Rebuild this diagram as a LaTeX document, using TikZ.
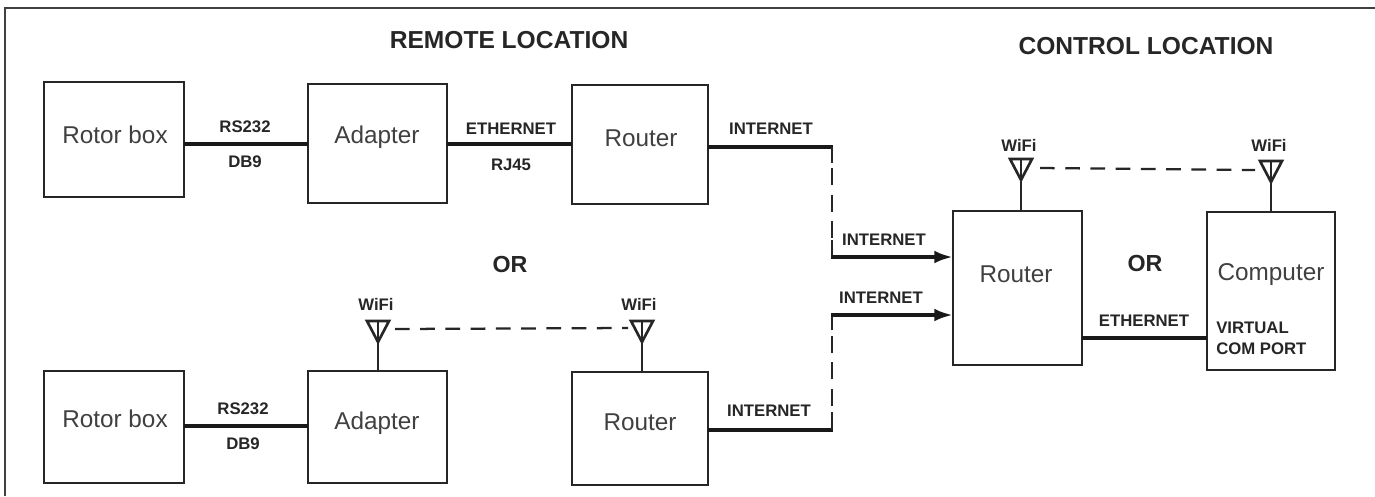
\documentclass[tikz,border=0pt]{standalone}
\usepackage{fontspec}
\setmainfont{Liberation Sans}
\usetikzlibrary{arrows.meta}
\newcommand{\px}{0.0264583cm}
\tikzset{
  x=\px,y=-\px,
  blockbox/.style={draw=black!85,line width=1.7pt,inner sep=0pt,outer sep=0pt},
  blocktext/.style={font=\fontsize{18.3}{20}\selectfont,text=black!75,inner sep=0pt},
  smalltext/.style={font=\fontsize{12.6}{14}\selectfont\bfseries,text=black!85,inner sep=0pt},
  headtext/.style={font=\fontsize{18.5}{20}\selectfont\bfseries,text=black!85,inner sep=0pt},
  orlabel/.style={font=\fontsize{17.5}{20}\selectfont\bfseries,text=black!85,inner sep=0pt},
  thick line/.style={draw=black!90,line width=3pt},
  thin line/.style={draw=black!85,line width=1.7pt},
  dash line/.style={draw=black!85,line width=1.7pt,dash pattern=on 11pt off 8pt},
  vdash line/.style={draw=black!85,line width=1.7pt,dash pattern=on 13pt off 7pt},
  arrow line/.style={draw=black!90,line width=3pt,-{Latex[length=14pt,width=9.5pt]}},
  antenna/.style={draw=black!85,line width=2pt,fill=white,line join=miter}
}
\newcommand{\blockat}[5]{% name, x1,y1,x2,y2
  \node[blockbox,minimum width={(#4-#2)*\px},minimum height={(#5-#3)*\px},anchor=north west] (#1) at (#2,#3) {};
}
\newcommand{\antennaat}[3]{% name, x, tip y
  \coordinate (#1) at (#2,#3);
  \draw[antenna] (#2-11,#3-21) -- (#2+11,#3-21) -- (#2,#3) -- cycle;
  \draw[thin line] (#2,#3-21) -- (#2,#3);
}
\begin{document}
\begin{tikzpicture}
\useasboundingbox (0,0) rectangle (1375,496);
\path[fill=white] (0,0) rectangle (1375,496);
\draw[draw=black!75,line width=1.7pt] (5,496) -- (5,8) -- (1375,8);

\node[headtext] (h1) at (509,40) {REMOTE LOCATION};
\node[headtext] (h2) at (1146,46) {CONTROL LOCATION};
\node[orlabel] (or1) at (510,264) {OR};
\node[orlabel] (or2) at (1145,263) {OR};

\blockat{rb1}{44}{82}{184}{197}
\blockat{ad1}{308}{84}{447}{203}
\blockat{ro1}{572}{85}{708}{204}
\blockat{rb2}{44}{371}{184}{483}
\blockat{ad2}{308}{371}{447}{483}
\blockat{ro2}{572}{372}{708}{485}
\blockat{rc}{953}{211}{1082}{365}
\blockat{co}{1207}{212}{1335}{370}

\node[blocktext] (t1) at (115,135) {Rotor box};
\node[blocktext] (t2) at (377,137) {Adapter};
\node[blocktext] (t3) at (641,138) {Router};
\node[blocktext] (t4) at (115,419) {Rotor box};
\node[blocktext] (t5) at (377,423) {Adapter};
\node[blocktext] (t6) at (640,422) {Router};
\node[blocktext] (t7) at (1016,274) {Router};
\node[blocktext] (t8) at (1271,275) {Computer};
\node[smalltext,anchor=west] (v1) at (1216,328) {VIRTUAL};
\node[smalltext,anchor=west] (v2) at (1216,349) {COM PORT};

\draw[thick line] (rb1.east |- 0,144) -- (ad1.west |- 0,144);
\draw[thick line] (ad1.east |- 0,144) -- (ro1.west |- 0,144);
\draw[thick line] (rb2.east |- 0,426) -- (ad2.west |- 0,426);
\draw[thick line] (ro1.east |- 0,147) -- (833,147);
\draw[thin line] (832,147) -- (832,163);
\draw[vdash line] (832,168) -- (832,240);
\draw[thin line] (832,240) -- (832,257);
\draw[arrow line] (831,257) -- (rc.west |- 0,257);
\draw[thick line] (ro2.east |- 0,430) -- (833,430);
\draw[thin line] (832,430) -- (832,412);
\draw[vdash line] (832,406) -- (832,330);
\draw[thin line] (832,330) -- (832,315);
\draw[arrow line] (831,315) -- (rc.west |- 0,315);
\draw[thick line] (rc.east |- 0,338) -- (co.west |- 0,338);

\antennaat{a1}{378}{342}
\antennaat{a2}{642}{342}
\antennaat{a3}{1021}{180}
\antennaat{a4}{1271}{182}
\draw[thin line] (a1) -- (a1 |- ad2.north);
\draw[thin line] (a2) -- (a2 |- ro2.north);
\draw[thin line] (a3) -- (a3 |- rc.north);
\draw[thin line] (a4) -- (a4 |- co.north);
\draw[dash line] (395,329) -- (628,328);
\draw[dash line] (1040,168) -- (1255,170);

\node[smalltext] (l1) at (245,127) {RS232};
\node[smalltext] (l2) at (245,162) {DB9};
\node[smalltext] (l3) at (511,129) {ETHERNET};
\node[smalltext] (l4) at (511,165) {RJ45};
\node[smalltext] (l5) at (771,129) {INTERNET};
\node[smalltext] (l6) at (884,240) {INTERNET};
\node[smalltext] (l7) at (881,298) {INTERNET};
\node[smalltext] (l8) at (769,411) {INTERNET};
\node[smalltext] (l9) at (243,409) {RS232};
\node[smalltext] (l10) at (243,444) {DB9};
\node[smalltext] (l11) at (1144,321) {ETHERNET};
\node[smalltext] (w1) at (376,304) {WiFi};
\node[smalltext] (w2) at (639,304) {WiFi};
\node[smalltext] (w3) at (1019,145) {WiFi};
\node[smalltext] (w4) at (1269,145) {WiFi};
\end{tikzpicture}
\end{document}
